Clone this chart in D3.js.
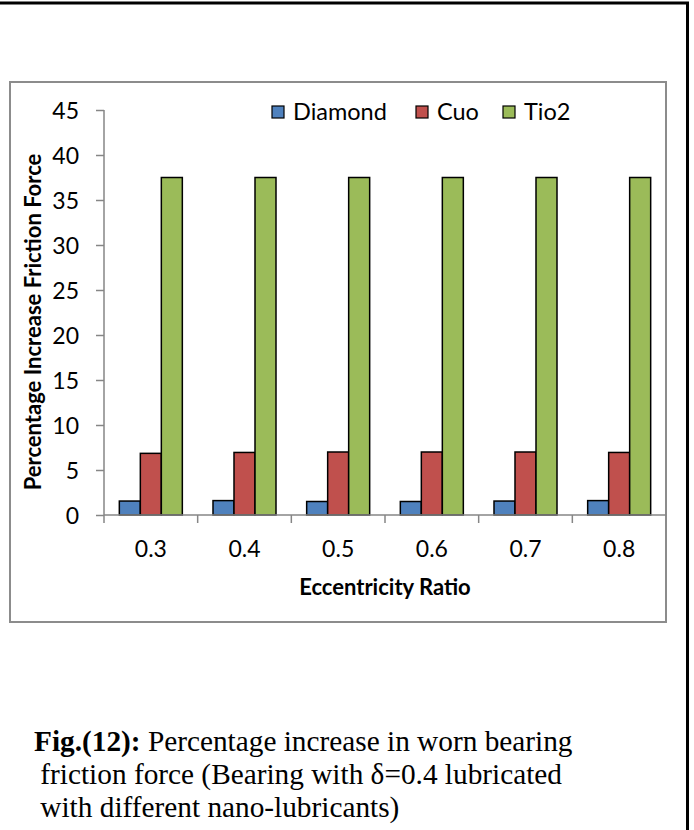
<!DOCTYPE html>
<html lang="en">
<head>
    <meta charset="UTF-8">
    <title>Percentage increase friction force</title>
    <script src="https://cdn.jsdelivr.net/npm/d3@7"></script>
    <style>
        body { margin: 0; background: #fff; }
        text { font-family: Lato, "Noto Sans", sans-serif; fill: #000; }
        .caption { font-family: "Liberation Serif", "Times New Roman", serif; font-size: 29.3px; }
    </style>
</head>
<body>

<div id="container"></div>

<script>
    // Chart data
    var categories = ["0.3", "0.4", "0.5", "0.6", "0.7", "0.8"];
    var seriesNames = ["Diamond", "Cuo", "Tio2"];
    var diamond = [1.55, 1.6, 1.5, 1.5, 1.55, 1.6];
    var cuo = [6.85, 6.95, 7.0, 7.0, 7.0, 6.95];
    var tio2 = [37.5, 37.5, 37.5, 37.5, 37.5, 37.5];
    var yTicks = [0, 5, 10, 15, 20, 25, 30, 35, 40, 45];
    var captionLines = [
        [{ t: "Fig.(12):", b: true }, { t: " Percentage increase in worn bearing", b: false }],
        [{ t: " friction force (Bearing with \u03B4=0.4 lubricated", b: false }],
        [{ t: " with different nano-lubricants)", b: false }]
    ];

    var colors = { "Diamond": "#4F81BD", "Cuo": "#C0504D", "Tio2": "#9BBB59" };
    var values = { "Diamond": diamond, "Cuo": cuo, "Tio2": tio2 };

    var W = 694, H = 830;
    var svg = d3.select("#container").append("svg")
        .attr("width", W)
        .attr("height", H);

    // outer page frame (only top and right edges are visible)
    svg.append("rect")
        .attr("x", -20).attr("y", 3)
        .attr("width", 707.5).attr("height", 900)
        .attr("fill", "none")
        .attr("stroke", "#000")
        .attr("stroke-width", 3);

    // chart area border
    svg.append("rect")
        .attr("x", 10).attr("y", 82)
        .attr("width", 656).attr("height", 540)
        .attr("fill", "#fff")
        .attr("stroke", "#8c8c8c")
        .attr("stroke-width", 2);

    // Scales
    var plotL = 104, plotR = 666, plotT = 110, plotB = 515;
    var x0 = d3.scaleBand().domain(categories).range([plotL, plotR]).paddingInner(0).paddingOuter(0);
    var x1 = d3.scaleBand().domain(seriesNames).range([0, x0.bandwidth()]).paddingInner(0).paddingOuter(0.73);
    var y = d3.scaleLinear().domain([0, 45]).range([plotB, plotT]);

    // Bars
    var groups = svg.selectAll("g.cat")
        .data(categories)
        .enter().append("g")
        .attr("class", "cat")
        .attr("transform", d => "translate(" + x0(d) + ",0)");

    groups.selectAll("rect")
        .data((d, i) => seriesNames.map(s => ({ s: s, v: values[s][i] })))
        .enter().append("rect")
        .attr("x", d => x1(d.s))
        .attr("y", d => y(d.v))
        .attr("width", x1.bandwidth())
        .attr("height", d => y(0) - y(d.v))
        .attr("fill", d => colors[d.s])
        .attr("stroke", "#000")
        .attr("stroke-width", 1.5);

    // Y axis
    var yAxis = svg.append("g")
        .attr("transform", "translate(" + plotL + ",0)")
        .call(d3.axisLeft(y).tickValues(yTicks).tickSize(8).tickPadding(17));
    yAxis.select(".domain").attr("stroke", "#868686").attr("stroke-width", 1.5)
        .attr("d", "M0," + plotT + "V" + (plotB + 8));
    yAxis.selectAll(".tick line").attr("stroke", "#868686").attr("stroke-width", 1.5);
    yAxis.selectAll(".tick text").style("font-size", "23px").attr("dy", "0.36em");

    // X axis
    var xAxis = svg.append("g")
        .attr("transform", "translate(0," + plotB + ")")
        .call(d3.axisBottom(x0).tickSize(0).tickPadding(26));
    xAxis.select(".domain").attr("stroke", "#868686").attr("stroke-width", 1.5)
        .attr("d", "M" + plotL + ",0H" + plotR);
    xAxis.selectAll(".tick text").style("font-size", "23px");
    // tick marks between categories
    xAxis.selectAll("line.sep")
        .data(categories.slice(1))
        .enter().append("line")
        .attr("class", "sep")
        .attr("x1", d => x0(d)).attr("x2", d => x0(d))
        .attr("y1", 0).attr("y2", 8)
        .attr("stroke", "#868686").attr("stroke-width", 1.5);

    // Axis titles
    svg.append("text")
        .attr("x", 385).attr("y", 595)
        .attr("text-anchor", "middle")
        .style("font-size", "22px").style("font-weight", "bold")
        .text("Eccentricity Ratio");

    svg.append("text")
        .attr("transform", "translate(41,322) rotate(-90)")
        .attr("text-anchor", "middle")
        .style("font-size", "22px").style("font-weight", "bold")
        .text("Percentage Increase Friction Force");

    // Legend
    var legendX = [272, 416, 503];
    var legend = svg.selectAll("g.legend")
        .data(seriesNames)
        .enter().append("g")
        .attr("class", "legend")
        .attr("transform", (d, i) => "translate(" + legendX[i] + ",106)");
    legend.append("rect")
        .attr("width", 12).attr("height", 12)
        .attr("fill", d => colors[d])
        .attr("stroke", "#000").attr("stroke-width", 1.2);
    legend.append("text")
        .attr("x", 21).attr("y", 14)
        .style("font-size", "23.5px")
        .text(d => d);

    // Caption
    var capX = [34, 33, 33];
    var capY = [751, 784, 817];
    captionLines.forEach(function (line, i) {
        var t = svg.append("text")
            .attr("class", "caption")
            .attr("x", capX[i]).attr("y", capY[i])
            .attr("xml:space", "preserve")
            .style("white-space", "pre");
        line.forEach(function (part) {
            t.append("tspan")
                .style("font-weight", part.b ? "bold" : "normal")
                .text(part.t);
        });
    });
</script>

</body>
</html>
